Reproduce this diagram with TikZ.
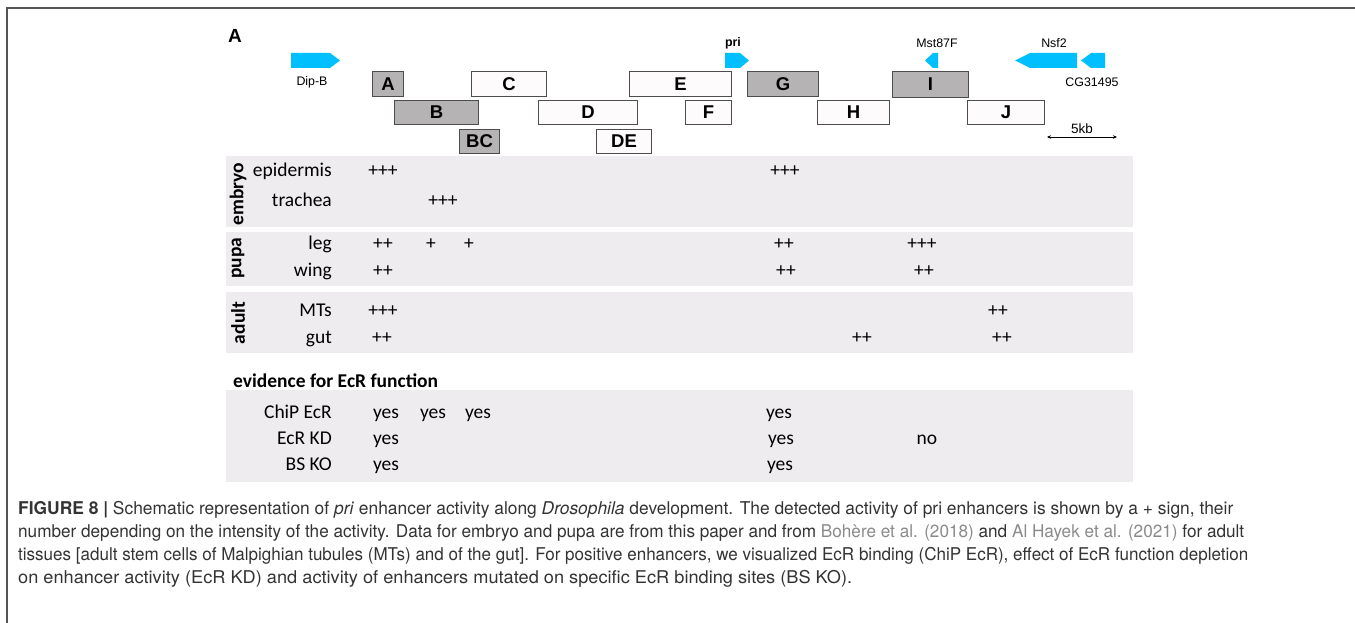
\documentclass[tikz,border=0pt]{standalone}
\usepackage{fontspec}
\usepackage{graphicx}
\usetikzlibrary{arrows.meta}
\setmainfont{Carlito}
\newfontfamily\arialf{Liberation Sans}
\newfontfamily\herosf{TeX Gyre Heros}
\definecolor{bandc}{HTML}{EEECEF}
\definecolor{boxgray}{HTML}{B5B3B4}
\definecolor{boxwhite}{HTML}{FDFBFB}
\definecolor{boxline}{HTML}{4D4D4D}
\definecolor{genec}{HTML}{00BFFF}
\definecolor{captext}{HTML}{333333}
\definecolor{linkc}{HTML}{8A8A8A}
\definecolor{framec}{HTML}{555555}
\tikzset{
  enhbase/.style={draw=boxline, line width=1pt, inner sep=0pt, anchor=north west,
    font=\arialf\bfseries\fontsize{18.5}{20}\selectfont},
  enhgray/.style={enhbase, fill=boxgray},
  enhwhite/.style={enhbase, fill=boxwhite},
  genelbl/.style={inner sep=0pt, font=\arialf\fontsize{12.4}{14}\selectfont},
  gene/.style={fill=genec},
  band/.style={fill=bandc},
  rowlbl/.style={inner sep=0pt, anchor=base east, font=\fontsize{19.5}{22}\selectfont},
  val/.style={inner sep=0pt, anchor=base, font=\fontsize{19.5}{22}\selectfont},
  stage/.style={inner sep=0pt, rotate=90, font=\bfseries\fontsize{19.5}{22}\selectfont},
  capline/.style={inner sep=0pt, anchor=base west, text=captext, font=\herosf\fontsize{17.6}{20}\selectfont},
}
\newcommand\enhbox[6]{\node[#1, minimum width=#4pt, minimum height=#5pt] (#6) at (#2,#3) {#6};}
\begin{document}
\begin{tikzpicture}[x=1pt,y=-1pt]
\useasboundingbox (0,0) rectangle (1355,623);
% frame
\draw[framec, line width=2pt] (7,623) -- (7,8) -- (1355,8);
% panel label
\node[inner sep=0pt, font=\arialf\bfseries\fontsize{19}{20}\selectfont] (panelA) at (235,36) {A};
% gene arrows
\fill[gene] (291,53) -- (330,53) -- (340,60.5) -- (330,68) -- (291,68) -- cycle;
\fill[gene] (725,53) -- (740,53) -- (749,60.5) -- (740,68) -- (725,68) -- cycle;
\fill[gene] (938,53) -- (933,53) -- (925,60.5) -- (933,68) -- (938,68) -- cycle;
\fill[gene] (1077,53) -- (1030,53) -- (1015,60.5) -- (1030,68) -- (1077,68) -- cycle;
\fill[gene] (1105,53) -- (1091,53) -- (1081,60.5) -- (1091,68) -- (1105,68) -- cycle;
\node[genelbl] (dipb) at (312,82) {Dip-B};
\node[genelbl, font=\arialf\bfseries\fontsize{12.4}{14}\selectfont] (pri) at (733,43) {pri};
\node[genelbl] (mst) at (937,43) {Mst87F};
\node[genelbl] (nsf) at (1054,43) {Nsf2};
\node[genelbl] (cg) at (1092,82) {CG31495};
% enhancer boxes
\enhbox{enhgray}{372}{71}{31}{25}{A}
\enhbox{enhgray}{394}{100}{84}{24}{B}
\enhbox{enhgray}{459}{129}{40}{24}{BC}
\enhbox{enhwhite}{471}{71}{75}{25}{C}
\enhbox{enhwhite}{538}{100}{99}{24}{D}
\enhbox{enhwhite}{596}{129}{55}{24}{DE}
\enhbox{enhwhite}{629}{71}{102}{25}{E}
\enhbox{enhwhite}{685}{100}{46}{24}{F}
\enhbox{enhgray}{747}{71}{71}{25}{G}
\enhbox{enhwhite}{817}{100}{72}{24}{H}
\enhbox{enhgray}{892}{71}{76}{26}{I}
\enhbox{enhwhite}{967}{100}{77}{24}{J}
% scale bar
\node[genelbl, font=\arialf\fontsize{13.5}{15}\selectfont] (kb) at (1082,129) {5kb};
\coordinate (s1) at (1047,137);
\coordinate (s2) at (1117,137);
\draw[line width=0.8pt, {Stealth[length=4pt,width=3.5pt]}-{Stealth[length=4pt,width=3.5pt]}] (s1) -- (s2);
% bands
\fill[band] (226,156) rectangle (1133,227);
\fill[band] (226,232) rectangle (1133,286);
\fill[band] (226,292) rectangle (1133,353);
\fill[band] (226,390) rectangle (1133,482);
% stage labels
\node[stage] (embryo) at (238,194) {embryo};
\node[stage] (pupa) at (238,258) {pupa};
\node[stage] (adult) at (238,323) {adult};
% row labels
\node[rowlbl] (epi) at (332,177) {epidermis};
\node[rowlbl] (tra) at (332,206) {trachea};
\node[rowlbl] (leg) at (332,249) {leg};
\node[rowlbl] (wing) at (332,276) {wing};
\node[rowlbl] (mts) at (332,316) {MTs};
\node[rowlbl] (gut) at (332,343) {gut};
\node[inner sep=0pt, anchor=base west, font=\bfseries\fontsize{19.5}{22}\selectfont] (evid) at (233,387) {evidence for EcR function};
\node[rowlbl] (chip) at (332,418) {ChiP EcR};
\node[rowlbl] (kd) at (332,444) {EcR KD};
\node[rowlbl] (bs) at (332,470) {BS KO};
% values
\node[val] (v1) at (383,177) {+++};
\node[val] (v2) at (785,177) {+++};
\node[val] (v3) at (443,206) {+++};
\node[val] (v4) at (383,249) {++};
\node[val] (v5) at (431,249) {+};
\node[val] (v6) at (469,249) {+};
\node[val] (v7) at (784,249) {++};
\node[val] (v8) at (922,249) {+++};
\node[val] (v9) at (383,276) {++};
\node[val] (v10) at (786,276) {++};
\node[val] (v11) at (924,276) {++};
\node[val] (v12) at (383,316) {+++};
\node[val] (v13) at (998,316) {++};
\node[val] (v14) at (382,343) {++};
\node[val] (v15) at (862,343) {++};
\node[val] (v16) at (1002,343) {++};
\node[val] (y1) at (386,418) {yes};
\node[val] (y2) at (433,418) {yes};
\node[val] (y3) at (478,418) {yes};
\node[val] (y4) at (779,418) {yes};
\node[val] (y5) at (386,444) {yes};
\node[val] (y6) at (781,444) {yes};
\node[val] (n1) at (927,444) {no};
\node[val] (y7) at (386,470) {yes};
\node[val] (y8) at (780,470) {yes};
% caption
\node[capline] (cap1) at (18,514) {\resizebox{1215pt}{\height}{\textbf{FIGURE 8 |} Schematic representation of \textit{pri} enhancer activity along \textit{Drosophila} development. The detected activity of pri enhancers is shown by a + sign, their}};
\node[capline] (cap2) at (18,537) {\resizebox{1226pt}{\height}{number depending on the intensity of the activity. Data for embryo and pupa are from this paper and from \textcolor{linkc}{Bohère et al. (2018)} and \textcolor{linkc}{Al Hayek et al. (2021)} for adult}};
\node[capline] (cap3) at (18,560) {\resizebox{1230pt}{\height}{tissues [adult stem cells of Malpighian tubules (MTs) and of the gut]. For positive enhancers, we visualized EcR binding (ChiP EcR), effect of EcR function depletion}};
\node[capline] (cap4) at (18,583) {\resizebox{834pt}{\height}{on enhancer activity (EcR KD) and activity of enhancers mutated on specific EcR binding sites (BS KO).}};
\end{tikzpicture}
\end{document}
